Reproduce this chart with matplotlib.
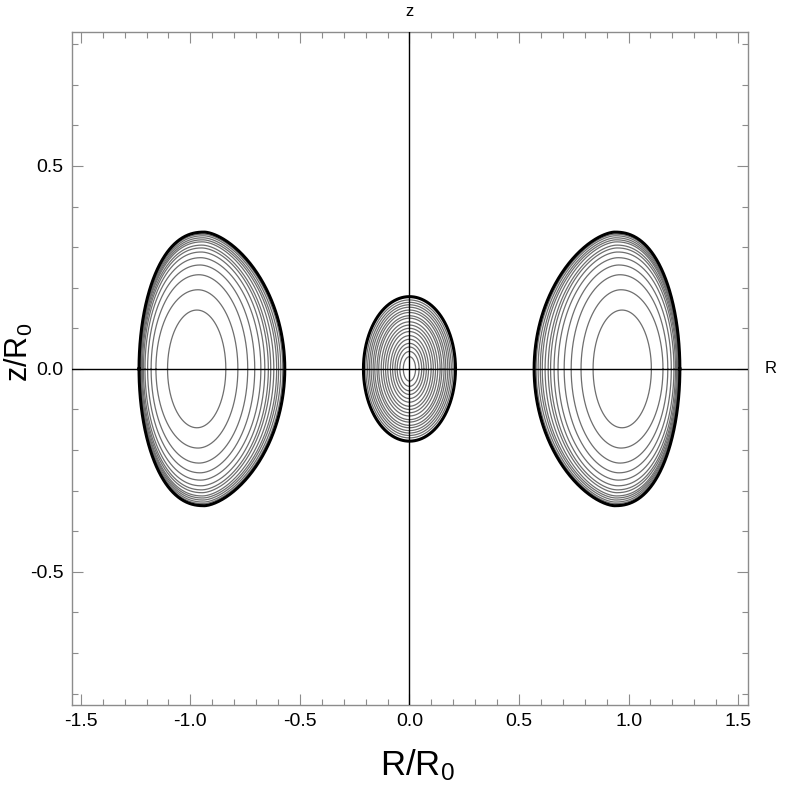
import numpy as np
import matplotlib.pyplot as plt
from matplotlib.ticker import MultipleLocator, FormatStrFormatter

plt.rcParams['font.family'] = ['Liberation Sans', 'DejaVu Sans']
plt.rcParams['mathtext.default'] = 'regular'

# side rings (right one; the left one is its mirror image), inner -> outer contour
ring_top_z = [0.145, 0.195, 0.232, 0.256, 0.274, 0.288, 0.298, 0.305, 0.313, 0.318, 0.323, 0.328, 0.332, 0.337]
ring_inner_R = [0.838, 0.783, 0.738, 0.706, 0.678, 0.660, 0.644, 0.633, 0.619, 0.606, 0.597, 0.587, 0.578, 0.569]
ring_outer_R = [1.104, 1.157, 1.179, 1.195, 1.207, 1.214, 1.219, 1.223, 1.226, 1.228, 1.230, 1.231, 1.233, 1.234]
ring_top_R = [0.970, 0.965, 0.960, 0.955, 0.952, 0.950, 0.948, 0.946, 0.944, 0.942, 0.940, 0.938, 0.937, 0.936]
# shape exponents (2 = ellipse) for the side facing R=0 and the far side
ring_p_in = [2.0, 1.95, 1.9, 1.85, 1.8, 1.78, 1.75, 1.72, 1.7, 1.68, 1.66, 1.64, 1.62, 1.6]
ring_p_out = [2.0, 2.03, 2.06, 2.09, 2.12, 2.14, 2.16, 2.18, 2.2, 2.22, 2.24, 2.26, 2.28, 2.3]

# central blob, inner -> outer
core_half_z = [0.030, 0.043, 0.054, 0.063, 0.073, 0.082, 0.092, 0.100, 0.108, 0.116,
               0.125, 0.131, 0.139, 0.145, 0.152, 0.158, 0.164, 0.170, 0.178]
core_half_R = [0.028, 0.044, 0.056, 0.066, 0.077, 0.087, 0.099, 0.109, 0.119, 0.129,
               0.140, 0.148, 0.158, 0.166, 0.175, 0.183, 0.191, 0.199, 0.210]

th = np.linspace(0, 2 * np.pi, 721)
c, s = np.cos(th), np.sin(th)


def ring(top, r_in, r_out, h, p_in, p_out):
    x = np.where(c >= 0,
                 top + (r_out - top) * np.abs(c) ** (2.0 / p_out),
                 top - (top - r_in) * np.abs(c) ** (2.0 / p_in))
    return x, h * s


fig = plt.figure(figsize=(7.89, 7.91), dpi=100)
ax = fig.add_axes([72 / 789, 1 - 705 / 791, 676 / 789, 673 / 791])

ax.axhline(0, color='black', lw=1.0, zorder=3)
ax.axvline(0, color='black', lw=1.0, zorder=3)

n = len(ring_top_z)
for i in range(n):
    x, z = ring(ring_top_R[i], ring_inner_R[i], ring_outer_R[i], ring_top_z[i],
                ring_p_in[i], ring_p_out[i])
    if i == n - 1:
        col, lw = 'black', 2.2
    else:
        col, lw = '#6e6e6e', 0.9
    ax.plot(x, z, color=col, lw=lw, zorder=2)
    ax.plot(-x, z, color=col, lw=lw, zorder=2)

m = len(core_half_z)
for i in range(m):
    if i == m - 1:
        col, lw = 'black', 2.2
    else:
        col, lw = '#6e6e6e', 0.9
    ax.plot(core_half_R[i] * c, core_half_z[i] * s, color=col, lw=lw, zorder=2)

ax.set_xlim(-1.54, 1.545)
ax.set_ylim(-0.828, 0.83)

ax.xaxis.set_major_locator(MultipleLocator(0.5))
ax.xaxis.set_minor_locator(MultipleLocator(0.1))
ax.yaxis.set_major_locator(MultipleLocator(0.5))
ax.yaxis.set_minor_locator(MultipleLocator(0.1))
ax.xaxis.set_major_formatter(FormatStrFormatter('%.1f'))
ax.yaxis.set_major_formatter(FormatStrFormatter('%.1f'))

ax.tick_params(which='both', direction='in', top=True, right=True,
               color='#8c8c8c', width=0.8, labelsize=14, pad=6)
ax.tick_params(which='major', length=8)
ax.tick_params(which='minor', length=4)
for sp in ax.spines.values():
    sp.set_color('#8c8c8c')
    sp.set_linewidth(1.0)

fig.text(417 / 789, 1 - 765 / 791, 'R/R$_0$', fontsize=25, ha='center', va='center')
fig.text(19 / 789, 1 - 352 / 791, 'z/R$_0$', fontsize=22, ha='center', va='center',
         rotation=90)
fig.text(409 / 789, 1 - 12 / 791, 'z', fontsize=12, ha='center', va='center')
fig.text(771 / 789, 1 - 369 / 791, 'R', fontsize=12, ha='center', va='center')

fig.savefig('out.png', dpi=100)
